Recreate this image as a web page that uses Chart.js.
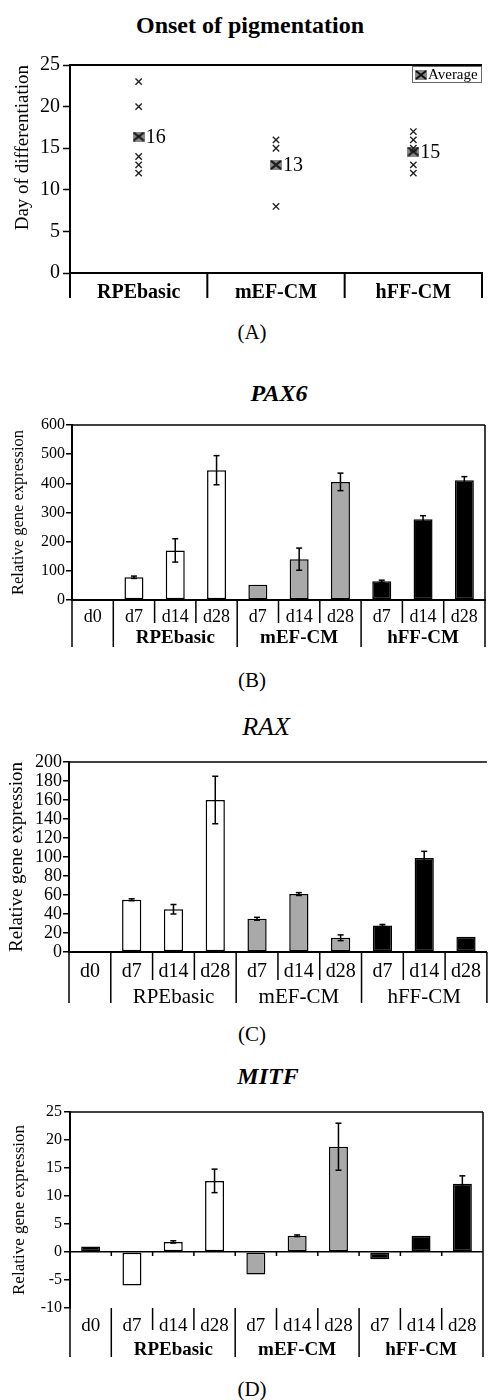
<!DOCTYPE html>
<html>
<head>
<meta charset="utf-8">
<script src="https://cdn.jsdelivr.net/npm/chart.js@4/dist/chart.umd.min.js"></script>
<style>
  body { margin: 0; background: #fff; width: 489px; height: 1400px; position: relative; overflow: hidden; }
  .t { position: absolute; transform: translateX(-50%); white-space: nowrap; line-height: 1;
       font-family: "Liberation Serif", "Times New Roman", serif; color: #000; }
  canvas { position: absolute; left: 0; }
</style>
</head>
<body>
<div class="t" style="left:250px;top:13px;font-size:24px;font-weight:bold">Onset of pigmentation</div>
<canvas id="cA" width="489" height="255" style="top:50px"></canvas>
<div class="t" style="left:252px;top:322px;font-size:21px">(A)</div>

<div class="t" style="left:279px;top:381px;font-size:24px;font-weight:bold;font-style:italic">PAX6</div>
<canvas id="cB" width="489" height="250" style="top:405px"></canvas>
<div class="t" style="left:252px;top:670px;font-size:21px">(B)</div>

<div class="t" style="left:266px;top:714px;font-size:26px;font-style:italic">RAX</div>
<canvas id="cC" width="489" height="263" style="top:745px"></canvas>
<div class="t" style="left:252px;top:1024px;font-size:21px">(C)</div>

<div class="t" style="left:268px;top:1064px;font-size:24px;font-weight:bold;font-style:italic">MITF</div>
<canvas id="cD" width="489" height="265" style="top:1095px"></canvas>
<div class="t" style="left:252px;top:1379px;font-size:21px">(D)</div>

<script>
// panel A: day of onset of pigmentation
const mediums = ["RPEbasic", "mEF-CM", "hFF-CM"];
const onsetRPE = [23, 20, 14, 13, 12];
const onsetMEF = [16, 15, 13, 8];
const onsetHFF = [17, 16, 15, 13, 12];
const onsetAvg = [16.4, 13, 14.6];
const onsetAvgLabels = ["16", "13", "15"];

// panels B-D: relative gene expression
const days = ["d0", "d7", "d14", "d28", "d7", "d14", "d28", "d7", "d14", "d28"];
const groupNames = ["", "RPEbasic", "mEF-CM", "hFF-CM"];
const groupSpans = [[0, 0], [1, 3], [4, 6], [7, 9]];
const pax6 = [1, 78, 170, 445, 52, 140, 405, 64, 277, 411];
const pax6Err = [0, 4, 40, 50, 0, 38, 30, 4, 12, 12];
const rax = [0.6, 55, 45, 160, 35, 61, 15, 28, 99, 16];
const raxErr = [0, 1, 5, 25, 1.5, 1.5, 3, 1, 7, 0];
const mitf = [1, -6, 1.8, 12.7, -4, 2.9, 18.8, -1.3, 2.9, 12.2];
const mitfErr = [0, 0, 0.2, 2.1, 0, 0.15, 4.2, 0, 0, 1.4];

const SERIF = '"Liberation Serif", "Times New Roman", serif';
const groupColours = ["#000", "#fff", "#a9a9a9", "#000"];

function groupOf(i) {
  return groupSpans.findIndex(s => i >= s[0] && i <= s[1]);
}

// gray square with a cross, used for the averages
const avgMarker = document.createElement("canvas");
avgMarker.width = 12;
avgMarker.height = 10;
(function () {
  const c = avgMarker.getContext("2d");
  c.fillStyle = "#8a8a8a";
  c.fillRect(0, 0, 12, 10);
  c.strokeStyle = "#111";
  c.lineWidth = 2;
  c.beginPath();
  c.moveTo(1, 1); c.lineTo(11, 9);
  c.moveTo(11, 1); c.lineTo(1, 9);
  c.stroke();
})();

function line(ctx, x1, y1, x2, y2) {
  ctx.beginPath();
  ctx.moveTo(x1, y1);
  ctx.lineTo(x2, y2);
  ctx.stroke();
}

// category dividers under the x axis, group labels, frame
function makeDividers(cfg) {
  return {
    id: "dividers",
    afterDraw(chart) {
      const ctx = chart.ctx, x = chart.scales.x, a = chart.chartArea;
      const n = chart.data.labels.length;
      const slot = x.width / n;
      const y0 = x.top;
      ctx.save();
      ctx.strokeStyle = "#000";
      ctx.lineWidth = cfg.lw || 1.5;
      for (let i = 0; i <= n; i++) {
        const px = i < n ? x.getPixelForValue(i) - slot / 2 : x.getPixelForValue(n - 1) + slot / 2;
        const major = !cfg.spans || cfg.spans.some(s => s[0] === i || s[1] + 1 === i);
        line(ctx, px, y0, px, y0 + (major ? cfg.outer : cfg.inner));
        if (cfg.zeroTicks && i > 0 && i < n) {
          const yz = chart.scales.y.getPixelForValue(0);
          line(ctx, px, yz, px, yz + 4);
        }
      }
      if (cfg.spans) {
        ctx.fillStyle = "#000";
        ctx.font = cfg.groupFont;
        ctx.textAlign = "center";
        ctx.textBaseline = "middle";
        cfg.spans.forEach((s, k) => {
          const cx = (x.getPixelForValue(s[0]) + x.getPixelForValue(s[1])) / 2;
          ctx.fillText(cfg.names[k], cx, y0 + cfg.groupY);
        });
      }
      ctx.lineWidth = cfg.frameW || 1.5;
      line(ctx, a.left, a.top, a.right, a.top);
      if (cfg.rightFrame) line(ctx, a.right, a.top, a.right, a.bottom);
      ctx.restore();
    }
  };
}

function makeErrorBars(errs) {
  return {
    id: "errorBars",
    afterDatasetsDraw(chart) {
      const ctx = chart.ctx, y = chart.scales.y;
      const meta = chart.getDatasetMeta(0);
      const vals = chart.data.datasets[0].data;
      ctx.save();
      ctx.strokeStyle = "#000";
      ctx.lineWidth = 1.5;
      errs.forEach((e, i) => {
        if (!e) return;
        const bx = meta.data[i].x;
        const t = y.getPixelForValue(vals[i] + e);
        const b = y.getPixelForValue(vals[i] - e);
        line(ctx, bx, t, bx, b);
        line(ctx, bx - 3, t, bx + 3, t);
        line(ctx, bx - 3, b, bx + 3, b);
      });
      ctx.restore();
    }
  };
}

// ---------- A ----------
const avgText = {
  id: "avgText",
  afterDatasetsDraw(chart) {
    const ctx = chart.ctx, a = chart.chartArea;
    const meta = chart.getDatasetMeta(1);
    ctx.save();
    ctx.fillStyle = "#000";
    ctx.font = "20px " + SERIF;
    ctx.textBaseline = "middle";
    meta.data.forEach((pt, i) => ctx.fillText(onsetAvgLabels[i], pt.x + 7, pt.y + 1));
    // legend box in the top right corner
    const bx = a.right - 70, by = a.top + 1;
    ctx.strokeStyle = "#666";
    ctx.lineWidth = 1;
    ctx.strokeRect(bx + 0.5, by + 0.5, 69, 16);
    ctx.drawImage(avgMarker, bx + 3, by + 4);
    ctx.font = "15px " + SERIF;
    ctx.fillText("Average", bx + 16, by + 9);
    ctx.restore();
  }
};

const onsetPoints = []
  .concat(onsetRPE.map(v => ({ x: mediums[0], y: v })))
  .concat(onsetMEF.map(v => ({ x: mediums[1], y: v })))
  .concat(onsetHFF.map(v => ({ x: mediums[2], y: v })));

new Chart(document.getElementById("cA"), {
  type: "line",
  data: {
    labels: mediums,
    datasets: [
      {
        label: "Day",
        data: onsetPoints,
        showLine: false,
        pointStyle: "crossRot",
        pointRadius: 4.5,
        pointBorderColor: "#222",
        pointBorderWidth: 1.4,
      },
      {
        label: "Average",
        data: onsetAvg.map((v, i) => ({ x: mediums[i], y: v })),
        showLine: false,
        pointStyle: avgMarker,
        pointRadius: 6,
      },
    ],
  },
  options: {
    responsive: false,
    animation: false,
    layout: { padding: { top: 12, right: 0, bottom: 0, left: 0 } },
    plugins: { legend: { display: false }, tooltip: { enabled: false } },
    scales: {
      x: {
        offset: true,
        grid: { display: false, drawTicks: false },
        border: { color: "#000", width: 2 },
        ticks: { color: "#000", padding: 8, font: { family: SERIF, size: 20, weight: "bold" } },
        afterFit(s) { s.height = 32; },
      },
      y: {
        min: 0,
        max: 25,
        ticks: { stepSize: 5, autoSkip: false, color: "#000", padding: 3, font: { family: SERIF, size: 20 } },
        grid: { drawOnChartArea: false, tickLength: 7, tickColor: "#000", tickWidth: 1.5 },
        border: { color: "#000", width: 2 },
        title: {
          display: true,
          text: "Day of differentiation",
          align: "end",
          color: "#000",
          padding: { top: 12, bottom: 0 },
          font: { family: SERIF, size: 19 },
        },
        afterFit(s) { s.width = 70; },
      },
    },
  },
  plugins: [makeDividers({ outer: 25, inner: 25, frameW: 2, lw: 2 }), avgText],
});

// ---------- B, C, D ----------
function barChart(id, values, errs, cfg) {
  return new Chart(document.getElementById(id), {
    type: "bar",
    data: {
      labels: days,
      datasets: [
        {
          data: values,
          backgroundColor: days.map((d, i) => groupColours[groupOf(i)]),
          borderColor: "#000",
          borderWidth: 1.5,
          borderSkipped: false,
          barPercentage: 0.46,
          categoryPercentage: 1,
        },
      ],
    },
    options: {
      responsive: false,
      animation: false,
      layout: { padding: cfg.pad },
      plugins: { legend: { display: false }, tooltip: { enabled: false } },
      scales: {
        x: {
          grid: { display: false, drawTicks: false },
          border: { display: cfg.xBorder, color: "#000", width: 2 },
          ticks: { color: "#000", padding: cfg.dPad, autoSkip: false, maxRotation: 0,
                   font: { family: SERIF, size: cfg.dSize } },
          afterFit(s) { s.height = cfg.xh; },
        },
        y: {
          min: cfg.min,
          max: cfg.max,
          ticks: { stepSize: cfg.step, autoSkip: false, color: "#000", padding: cfg.tPad,
                   font: { family: SERIF, size: cfg.tSize } },
          grid: {
            drawOnChartArea: cfg.zeroLine,
            color: c => (c.tick && c.tick.value === 0 ? "#000" : "rgba(0,0,0,0)"),
            lineWidth: 1.5,
            tickLength: 6,
            tickColor: "#000",
            tickWidth: 1.5,
          },
          border: { color: "#000", width: 2 },
          title: {
            display: true,
            text: "Relative gene expression",
            color: "#000",
            align: cfg.titleAlign,
            padding: { top: cfg.titlePad, bottom: 0 },
            font: { family: SERIF, size: cfg.titleSize },
          },
          afterFit(s) { s.width = cfg.yw; },
        },
      },
    },
    plugins: [
      makeErrorBars(errs),
      makeDividers({
        spans: groupSpans,
        names: groupNames,
        inner: cfg.inner,
        outer: cfg.outer,
        groupY: cfg.groupY,
        groupFont: cfg.groupFont,
        rightFrame: cfg.rightFrame,
        zeroTicks: cfg.zeroTicks,
      }),
    ],
  });
}

barChart("cB", pax6, pax6Err, {
  pad: { top: 20, right: 4, bottom: 0, left: 0 },
  yw: 72, xh: 55, min: 0, max: 600, step: 100,
  tSize: 16, tPad: 1, dSize: 18, dPad: 6,
  titleSize: 16.5, titlePad: 9, titleAlign: "center",
  inner: 23, outer: 47, groupY: 38, groupFont: "bold 19px " + SERIF,
  xBorder: true, zeroLine: false, rightFrame: true, zeroTicks: false,
});

barChart("cC", rax, raxErr, {
  pad: { top: 17, right: 0, bottom: 0, left: 0 },
  yw: 69, xh: 56, min: 0, max: 200, step: 20,
  tSize: 18, tPad: 1, dSize: 20, dPad: 8,
  titleSize: 19, titlePad: 6, titleAlign: "center",
  inner: 28, outer: 51, groupY: 45, groupFont: "21px " + SERIF,
  xBorder: true, zeroLine: false, rightFrame: false, zeroTicks: false,
});

barChart("cD", mitf, mitfErr, {
  pad: { top: 17, right: 6, bottom: 0, left: 0 },
  yw: 70, xh: 52, min: -10, max: 25, step: 5,
  tSize: 16, tPad: 2, dSize: 19, dPad: 7,
  titleSize: 17, titlePad: 9, titleAlign: "center",
  inner: 22, outer: 49, groupY: 42, groupFont: "bold 19px " + SERIF,
  xBorder: false, zeroLine: true, rightFrame: true, zeroTicks: true,
});
</script>
</body>
</html>
